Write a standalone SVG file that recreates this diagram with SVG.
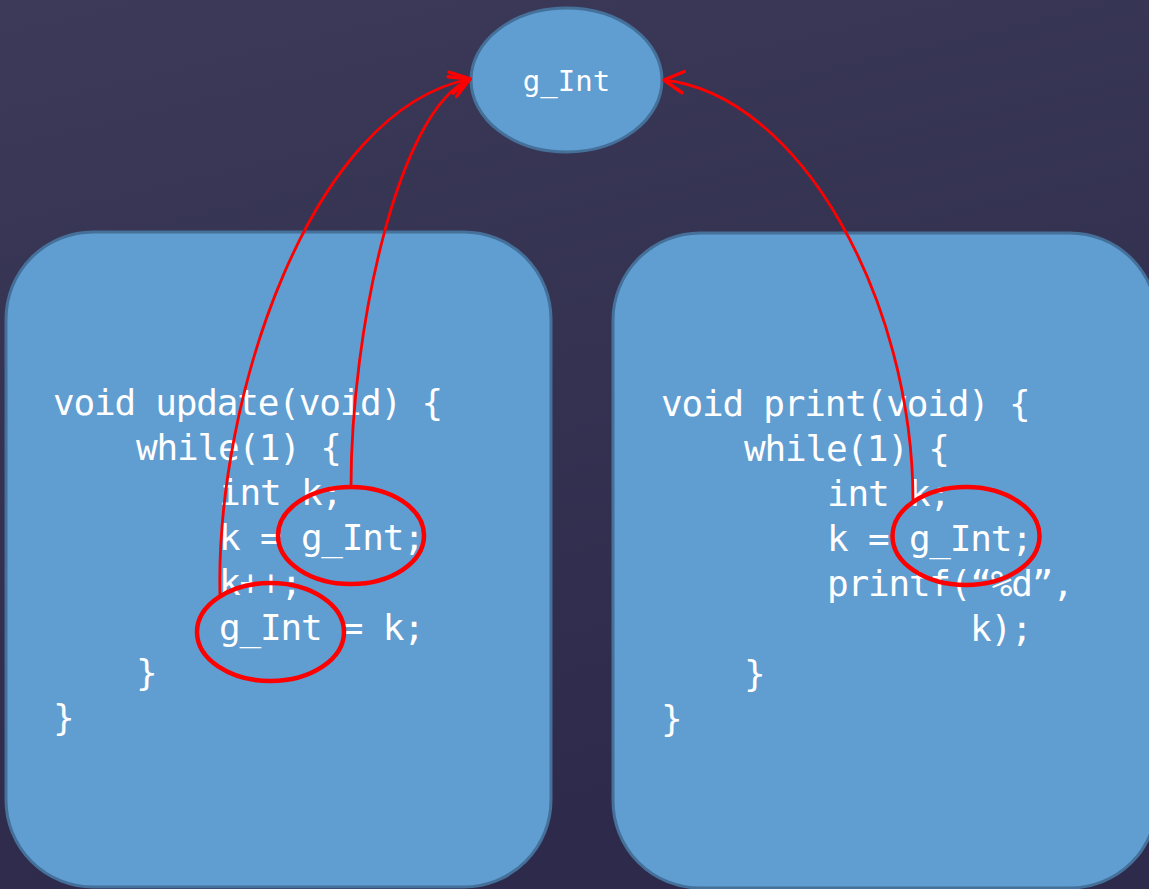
<svg xmlns="http://www.w3.org/2000/svg" width="1149" height="889" viewBox="0 0 1149 889">
<defs>
<linearGradient id="bg" x1="0" y1="0" x2="0.3" y2="1">
<stop offset="0" stop-color="#3c3a58"/>
<stop offset="1" stop-color="#2d2a4b"/>
</linearGradient>
<marker id="arr" markerUnits="userSpaceOnUse" markerWidth="30" markerHeight="30" viewBox="-22 -14 26 28" refX="0" refY="0" orient="auto">
<path d="M -18,-10 L 0,0 L -18,10" fill="none" stroke="#ff0000" stroke-width="3.2" stroke-linecap="round" stroke-linejoin="round"/>
</marker>
<style>
.box{fill:#609dd1;stroke:#44709a;stroke-width:3}
.code{font-family:"DejaVu Sans Mono","Liberation Mono",monospace;font-size:36px;letter-spacing:-1.2px;fill:#ffffff}
.lbl{font-family:"DejaVu Sans Mono","Liberation Mono",monospace;font-size:29px;fill:#ffffff;text-anchor:middle}
.hl{fill:none;stroke:#ff0000;stroke-width:4.5}
.conn{fill:none;stroke:#ff0000;stroke-width:2.8;marker-end:url(#arr)}
</style>
</defs>
<rect x="0" y="0" width="1149" height="889" fill="url(#bg)"/>

<g id="node-gint">
<ellipse cx="566.5" cy="80" rx="95.5" ry="72" class="box"/>
<text x="566.5" y="91" class="lbl">g_Int</text>
</g>

<g id="node-update">
<rect x="6" y="232" width="545" height="655" rx="87" ry="87" class="box"/>
<text class="code" x="53" y="415">void update(void) {</text>
<text class="code" x="136" y="460">while(1) {</text>
<text class="code" x="219" y="505">int k;</text>
<text class="code" x="219" y="550">k = g_Int;</text>
<text class="code" x="219" y="595">k++;</text>
<text class="code" x="219" y="640">g_Int = k;</text>
<text class="code" x="136" y="685">}</text>
<text class="code" x="53" y="730">}</text>
</g>

<g id="node-print">
<rect x="613" y="233" width="544" height="655" rx="87" ry="87" class="box"/>
<text class="code" x="661" y="416">void print(void) {</text>
<text class="code" x="744" y="461">while(1) {</text>
<text class="code" x="827" y="506">int k;</text>
<text class="code" x="827" y="551">k = g_Int;</text>
<text class="code" x="827" y="596">printf(“%d”,</text>
<text class="code" x="970" y="641">k);</text>
<text class="code" x="744" y="686">}</text>
<text class="code" x="661" y="731">}</text>
</g>

<g id="highlights">
<ellipse class="hl" cx="351" cy="535.5" rx="73" ry="48.5"/>
<ellipse class="hl" cx="270.5" cy="632" rx="73.5" ry="49"/>
<ellipse class="hl" cx="966" cy="536" rx="73.5" ry="49"/>
</g>

<g id="connectors">
<path class="conn" d="M 351,487 C 351,330 398,110 470,79"/>
<path class="conn" d="M 220,596 C 215,400 310,110 470,79"/>
<path class="conn" d="M 913,501 C 913,300 800,95 664,80"/>
</g>
</svg>
